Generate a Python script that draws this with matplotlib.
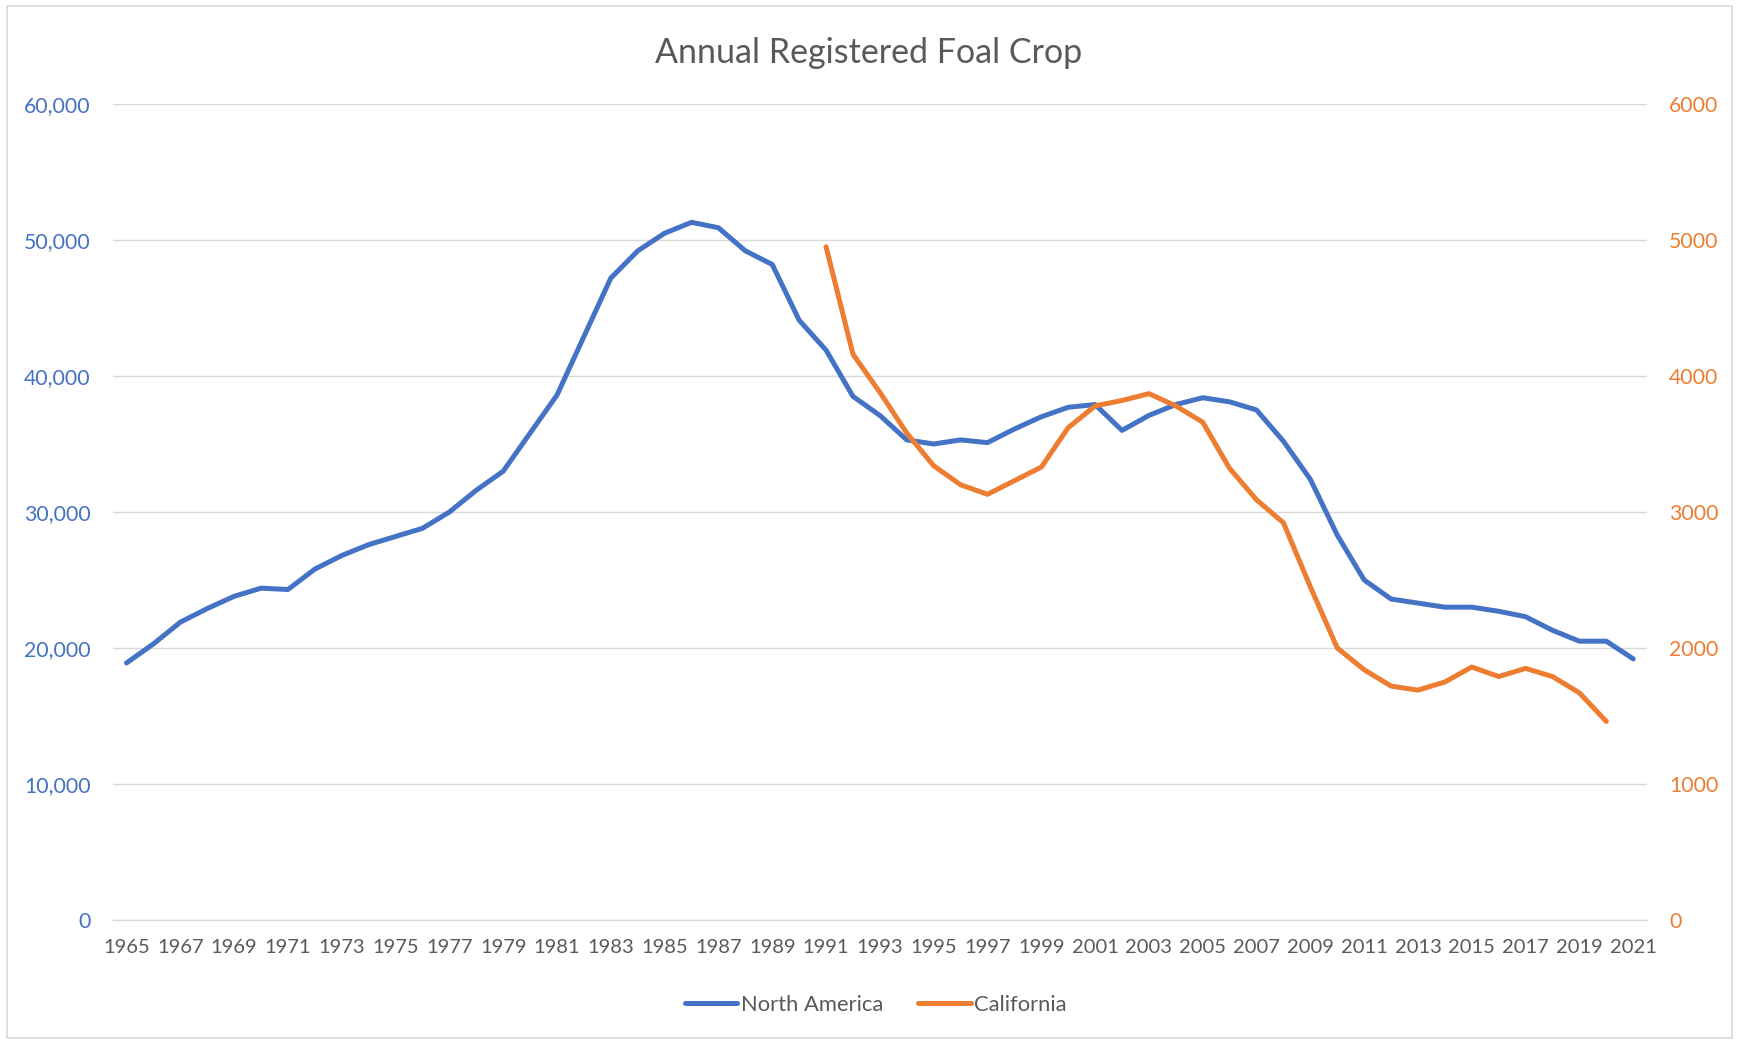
import matplotlib
matplotlib.use("Agg")
import matplotlib.pyplot as plt
from matplotlib.ticker import FuncFormatter, FixedLocator
from matplotlib.patches import Rectangle
from matplotlib.lines import Line2D

plt.rcParams['font.family'] = ['Lato', 'DejaVu Sans']

# data
years_na = list(range(1965, 2022))
north_america = [18900, 20300, 21900, 22900, 23800, 24400, 24300, 25800, 26800, 27600,
                 28200, 28800, 30000, 31600, 33000, 35800, 38600, 42900, 47200, 49200,
                 50500, 51300, 50900, 49200, 48200, 44100, 41900, 38500, 37100, 35300,
                 35000, 35300, 35100, 36100, 37000, 37700, 37900, 36000, 37100, 37900,
                 38400, 38100, 37500, 35200, 32400, 28300, 25000, 23600, 23300, 23000,
                 23000, 22700, 22300, 21300, 20500, 20500, 19200]

years_ca = list(range(1991, 2021))
california = [4950, 4160, 3880, 3580, 3340, 3200, 3130, 3230, 3330, 3620,
              3780, 3820, 3870, 3780, 3660, 3320, 3090, 2920, 2450, 2000,
              1840, 1720, 1690, 1750, 1860, 1790, 1850, 1790, 1670, 1460]

tick_years = years_na[::2]

BLUE = '#4472C4'
ORANGE = '#ED7D31'
GRAY = '#595959'
GRID = '#D9D9D9'

fig = plt.figure(figsize=(17.37, 10.40), dpi=100)
ax = fig.add_axes([0.0651, 0.1154, 0.948 - 0.0651, 0.9 - 0.1154])
ax2 = ax.twinx()

ax.plot(years_na, north_america, color=BLUE, lw=3.6, solid_capstyle='round',
        solid_joinstyle='round', zorder=3)
ax2.plot(years_ca, california, color=ORANGE, lw=3.6, solid_capstyle='round',
         solid_joinstyle='round', zorder=3)

ax.set_xlim(1964.5, 2021.5)
ax.set_ylim(0, 60000)
ax2.set_ylim(0, 6000)
ax.set_yticks(range(0, 60001, 10000))
ax2.set_yticks(range(0, 6001, 1000))
ax.yaxis.set_major_formatter(FuncFormatter(lambda v, p: f"{int(v):,}"))
ax2.yaxis.set_major_formatter(FuncFormatter(lambda v, p: f"{int(v)}"))
ax.xaxis.set_major_locator(FixedLocator(tick_years))
ax.set_xticklabels([str(y) for y in tick_years])

ax.grid(axis='y', color=GRID, lw=1.0)
ax.set_axisbelow(True)
for a in (ax, ax2):
    for s in a.spines.values():
        s.set_visible(False)
ax.spines['bottom'].set_visible(True)
ax.spines['bottom'].set_color(GRID)
ax.spines['bottom'].set_linewidth(1.0)

ax.tick_params(axis='x', length=0, pad=14, labelsize=14.5, labelcolor=GRAY)
ax.tick_params(axis='y', length=0, pad=16, labelsize=15.3, labelcolor=BLUE)
ax2.tick_params(axis='y', length=0, pad=16, labelsize=15.3, labelcolor=ORANGE)

fig.text(0.5, 0.949, 'Annual Registered Foal Crop', ha='center', va='center',
         fontsize=24.5, color=GRAY)

handles = [Line2D([], [], color=BLUE, lw=3.6, solid_capstyle='round'),
           Line2D([], [], color=ORANGE, lw=3.6, solid_capstyle='round')]
fig.legend(handles, ['North America', 'California'], loc='center',
           bbox_to_anchor=(0.504, 0.034), ncol=2, frameon=False, fontsize=15.8,
           labelcolor=GRAY, handlelength=2.4, handletextpad=0.15, columnspacing=1.6)

fig.add_artist(Rectangle((0.004, 0.002), 0.993, 0.992, transform=fig.transFigure,
                         fill=False, edgecolor=GRID, lw=1.2))

fig.savefig('out.png', dpi=100, facecolor='white')
